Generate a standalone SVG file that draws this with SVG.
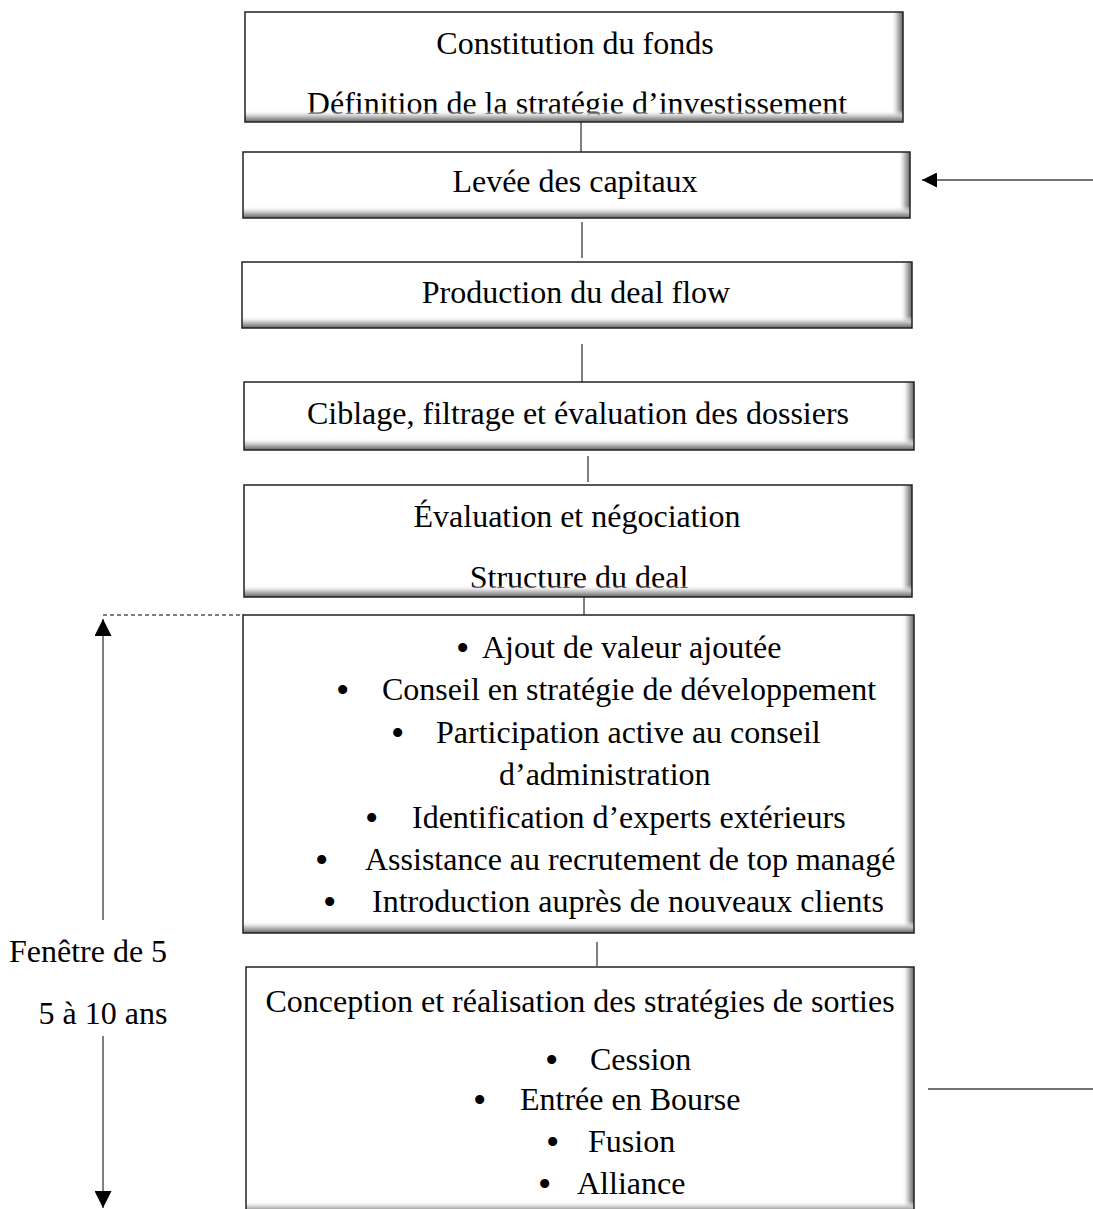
<svg xmlns="http://www.w3.org/2000/svg" width="1093" height="1209" viewBox="0 0 1093 1209">
<defs>
<linearGradient id="gr" x1="0" y1="0" x2="1" y2="0">
<stop offset="0" stop-color="#ffffff" stop-opacity="0"/>
<stop offset="0.5" stop-color="#c8c8c8"/>
<stop offset="1" stop-color="#666666"/>
</linearGradient>
<linearGradient id="gb" x1="0" y1="0" x2="0" y2="1">
<stop offset="0" stop-color="#ffffff" stop-opacity="0"/>
<stop offset="0.5" stop-color="#c8c8c8"/>
<stop offset="1" stop-color="#666666"/>
</linearGradient>
<marker id="ahb" viewBox="0 0 10 10" refX="10" refY="5" markerWidth="15" markerHeight="15" orient="auto" markerUnits="userSpaceOnUse">
<path d="M0,0 L10,5 L0,10 z" fill="#000"/>
</marker>
<marker id="ahl" viewBox="0 0 10 10" refX="10" refY="5" markerWidth="18" markerHeight="17" orient="auto" markerUnits="userSpaceOnUse">
<path d="M0,0 L10,5 L0,10 z" fill="#000"/>
</marker>
</defs>
<style>
text{font-family:"Liberation Serif","Times New Roman",serif;font-size:32px;fill:#000}
.c{text-anchor:middle}
.b{font-size:38px}
.box{fill:#fff;stroke:none}
.frame{fill:none;stroke:#222;stroke-width:1.5}
.ln{stroke:#000;stroke-width:1;fill:none}
.ln2{stroke:#444;stroke-width:1.5;fill:none}
</style>
<rect width="1093" height="1209" fill="#fff"/>

<g id="connectors">
<line class="ln" x1="581" y1="122" x2="581" y2="152"/>
<line class="ln" x1="582" y1="222" x2="582" y2="258"/>
<line class="ln" x1="582" y1="344" x2="582" y2="382"/>
<line class="ln" x1="588" y1="456" x2="588" y2="482"/>
<line class="ln" x1="584" y1="597" x2="584" y2="615"/>
<line class="ln" x1="597" y1="942" x2="597" y2="966"/>
<line class="ln2" x1="1093" y1="180" x2="922" y2="180" marker-end="url(#ahb)"/>
<line class="ln2" x1="928" y1="1089" x2="1093" y2="1089"/>
<line class="ln" x1="103" y1="615" x2="244" y2="615" stroke-dasharray="4,3"/>
<line class="ln" x1="103" y1="920" x2="103" y2="619" marker-end="url(#ahl)"/>
<line class="ln" x1="103" y1="1036" x2="103" y2="1208" marker-end="url(#ahl)"/>
</g>

<g id="n1">
<rect class="box" x="245" y="12" width="658" height="110"/>
<text class="c" x="575" y="54">Constitution du fonds</text>
<text class="c" x="577" y="114">Définition de la stratégie d’investissement</text>
<rect x="891" y="12" width="12" height="110" fill="url(#gr)"/>
<rect x="245" y="110" width="658" height="12" fill="url(#gb)"/>
<rect class="frame" x="245" y="12" width="658" height="110"/>
</g>

<g id="n2">
<rect class="box" x="243" y="152" width="667" height="66"/>
<text class="c" x="575" y="192">Levée des capitaux</text>
<rect x="898" y="152" width="12" height="66" fill="url(#gr)"/>
<rect x="243" y="206" width="667" height="12" fill="url(#gb)"/>
<rect class="frame" x="243" y="152" width="667" height="66"/>
</g>

<g id="n3">
<rect class="box" x="242" y="262" width="670" height="66"/>
<text class="c" x="576" y="303">Production du deal flow</text>
<rect x="900" y="262" width="12" height="66" fill="url(#gr)"/>
<rect x="242" y="316" width="670" height="12" fill="url(#gb)"/>
<rect class="frame" x="242" y="262" width="670" height="66"/>
</g>

<g id="n4">
<rect class="box" x="244" y="382" width="670" height="68"/>
<text class="c" x="578" y="424">Ciblage, filtrage et évaluation des dossiers</text>
<rect x="902" y="382" width="12" height="68" fill="url(#gr)"/>
<rect x="244" y="438" width="670" height="12" fill="url(#gb)"/>
<rect class="frame" x="244" y="382" width="670" height="68"/>
</g>

<g id="n5">
<rect class="box" x="244" y="485" width="668" height="112"/>
<text class="c" x="577" y="527">Évaluation et négociation</text>
<text class="c" x="579" y="588">Structure du deal</text>
<rect x="900" y="485" width="12" height="112" fill="url(#gr)"/>
<rect x="244" y="585" width="668" height="12" fill="url(#gb)"/>
<rect class="frame" x="244" y="485" width="668" height="112"/>
</g>

<g id="n6">
<rect class="box" x="243" y="615" width="671" height="318"/>
<text class="b" x="456" y="661">•</text><text x="482" y="658">Ajout de valeur ajoutée</text>
<text class="b" x="336" y="703">•</text><text x="382" y="700">Conseil en stratégie de développement</text>
<text class="b" x="391" y="746">•</text><text x="436" y="743">Participation active au conseil</text>
<text x="499" y="785">d’administration</text>
<text class="b" x="365" y="831">•</text><text x="412" y="828">Identification d’experts extérieurs</text>
<text class="b" x="315" y="873">•</text><text x="365" y="870">Assistance au recrutement de top managé</text>
<text class="b" x="323" y="915">•</text><text x="372" y="912">Introduction auprès de nouveaux clients</text>
<rect x="902" y="615" width="12" height="318" fill="url(#gr)"/>
<rect x="243" y="921" width="671" height="12" fill="url(#gb)"/>
<rect class="frame" x="243" y="615" width="671" height="318"/>
</g>

<g id="n7">
<rect class="box" x="246" y="967" width="668" height="250"/>
<text class="c" x="580" y="1012">Conception et réalisation des stratégies de sorties</text>
<text class="b" x="545" y="1073">•</text><text x="590" y="1070">Cession</text>
<text class="b" x="473" y="1113">•</text><text x="520" y="1110">Entrée en Bourse</text>
<text class="b" x="546" y="1155">•</text><text x="588" y="1152">Fusion</text>
<text class="b" x="538" y="1197">•</text><text x="577" y="1194">Alliance</text>
<rect x="902" y="967" width="12" height="250" fill="url(#gr)"/>
<rect x="246" y="1201" width="668" height="12" fill="url(#gb)"/>
<rect class="frame" x="246" y="967" width="668" height="250"/>
</g>

<g id="side-label">
<text class="c" x="88" y="962">Fenêtre de 5</text>
<text class="c" x="103" y="1024">5 à 10 ans</text>
</g>
</svg>
